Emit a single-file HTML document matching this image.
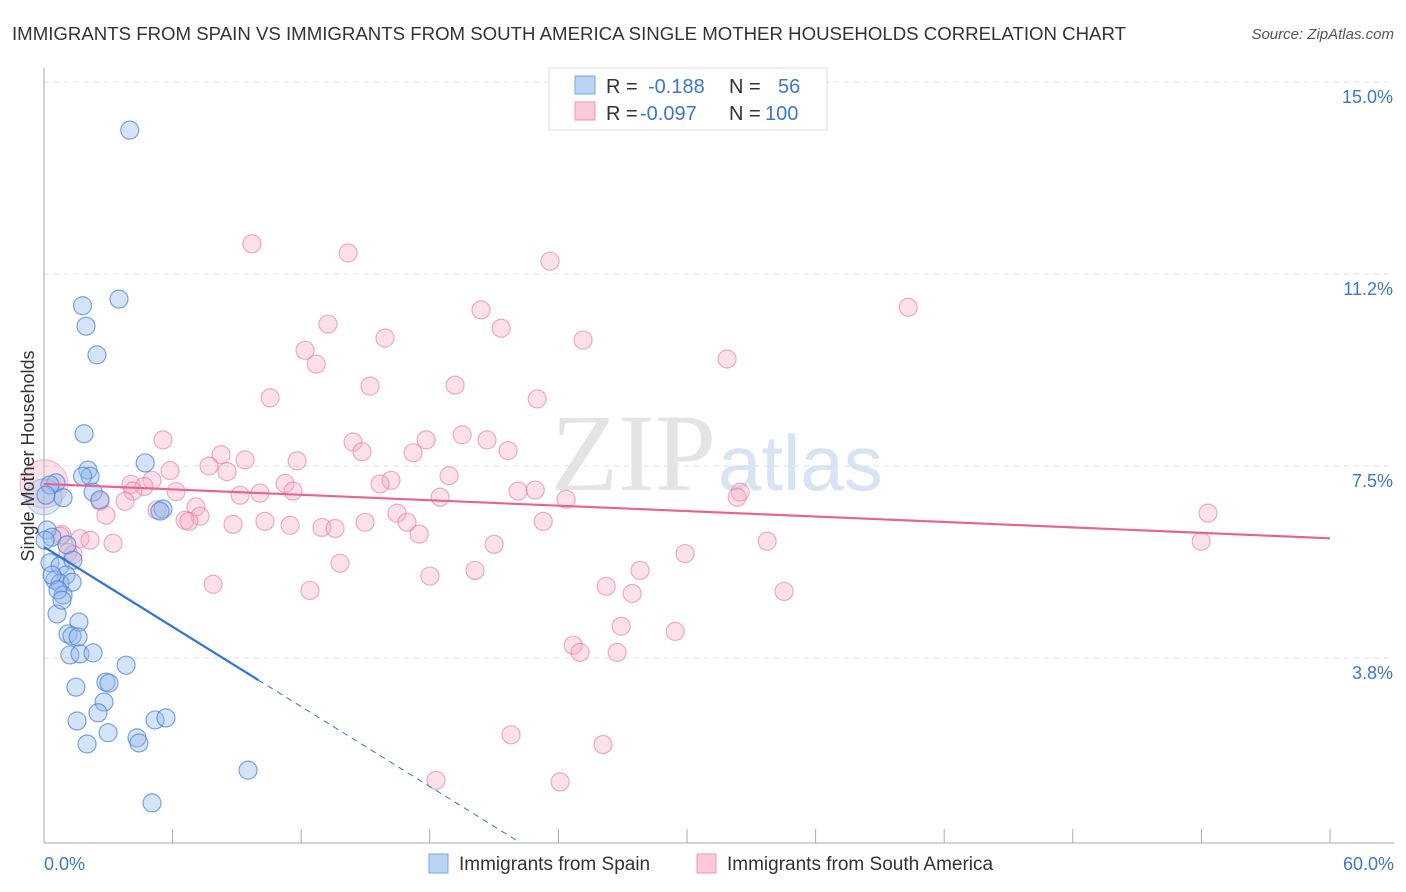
<!DOCTYPE html>
<html><head><meta charset="utf-8"><style>
body{margin:0;background:#fff;font-family:"Liberation Sans",sans-serif;overflow:hidden}
</style></head><body>
<svg width="1406" height="892" xmlns="http://www.w3.org/2000/svg" font-family="Liberation Sans, sans-serif" style="display:block">
<text x="12" y="40" font-size="18" fill="#333" textLength="1114" lengthAdjust="spacingAndGlyphs">IMMIGRANTS FROM SPAIN VS IMMIGRANTS FROM SOUTH AMERICA SINGLE MOTHER HOUSEHOLDS CORRELATION CHART</text>
<text x="1394" y="39" font-size="15" fill="#555" font-style="italic" text-anchor="end">Source: ZipAtlas.com</text>
<g id="grid"></g>
<text x="716" y="490" font-size="110" fill="#e4e4e4" text-anchor="end" font-family="Liberation Serif, serif">ZIP</text>
<text x="718" y="490" font-size="78" fill="#d6e4f3">atlas</text>
<g id="pts"></g>
<g id="lines"></g>
<text x="34" y="456" font-size="18" fill="#333" text-anchor="middle" transform="rotate(-90 34 456)">Single Mother Households</text>
<text x="44" y="870" font-size="18" fill="#3b78c8">0.0%</text>
<text x="1394" y="870" font-size="18" fill="#3b78c8" text-anchor="end">60.0%</text>
<g>
<rect x="549" y="68" width="278" height="62" fill="#fff" stroke="#ddd"/>
<rect x="575" y="76" width="20" height="18" fill="#b9d3f3" stroke="#7aa8e2"/>
<rect x="575" y="102" width="20" height="18" fill="#fbc9d7" stroke="#ef99b2"/>
<text x="606" y="93" font-size="20" fill="#333">R = <tspan fill="#3b78c8" x="648">-0.188</tspan><tspan fill="#333" x="729">N = </tspan><tspan fill="#3b78c8" x="778">56</tspan></text>
<text x="606" y="120" font-size="20" fill="#333">R = <tspan fill="#3b78c8" x="640">-0.097</tspan><tspan fill="#333" x="729">N = </tspan><tspan fill="#3b78c8" x="765">100</tspan></text>
</g>
<g>
<rect x="429" y="854" width="19" height="19" fill="#b9d3f3" stroke="#7aa8e2"/>
<text x="459" y="870" font-size="19" fill="#333">Immigrants from Spain</text>
<rect x="697" y="854" width="19" height="19" fill="#fbc9d7" stroke="#ef99b2"/>
<text x="727" y="870" font-size="19" fill="#333">Immigrants from South America</text>
</g>
</svg>
<script>
const yTicks=[15.0,11.25,7.5,3.75];
const yTickLabels=["15.0%","11.2%","7.5%","3.8%"];
const xTicks=[0,6,12,18,24,30,36,42,48,54,60];
const spainX=[4.0,3.5,1.8,1.96,2.47,1.87,4.72,2.05,2.15,0.56,0.89,2.29,5.55,5.41,0.14,0.37,1.07,0.28,0.75,1.35,1.03,0.51,0.75,1.31,0.89,0.61,1.63,1.12,1.31,1.59,1.21,1.68,2.29,3.83,2.89,3.03,1.49,2.8,2.52,1.54,5.18,5.69,2.99,4.34,4.43,2.01,9.52,5.04,0.28,0.09,0.37,0.65,0.05,0.84,1.8,2.61];
const spainY=[14.06,10.76,10.63,10.23,9.67,8.13,7.56,7.42,7.30,7.17,6.88,6.99,6.66,6.62,6.25,6.11,5.96,5.61,5.55,5.66,5.37,5.27,5.21,5.23,4.98,4.61,4.45,4.22,4.18,4.16,3.81,3.83,3.85,3.61,3.28,3.26,3.18,2.89,2.68,2.52,2.54,2.58,2.29,2.19,2.09,2.07,1.56,0.92,7.13,6.93,5.37,5.08,6.05,4.88,7.30,6.84];
const saX=[9.7,14.19,23.61,40.32,20.39,13.25,21.33,15.91,25.15,12.18,12.7,31.87,10.55,15.21,19.18,23.01,5.55,14.42,17.83,19.51,20.67,17.22,21.65,8.26,9.38,14.84,7.7,11.81,5.88,8.54,16.19,18.9,15.68,11.25,5.04,4.06,4.67,4.15,6.16,9.15,10.08,11.62,22.12,22.92,18.48,24.36,32.48,32.34,2.61,3.78,5.27,7.09,2.89,7.28,6.58,6.76,8.82,10.31,11.48,12.97,13.58,14.98,16.47,16.94,17.5,23.29,0.84,1.68,2.15,3.22,1.12,1.35,54.31,53.99,33.74,21.0,29.91,13.81,20.11,18.01,7.89,12.41,26.23,27.81,27.44,34.53,26.93,29.45,24.69,25.01,26.74,21.79,26.08,18.29,24.08,0.75];
const saY=[11.84,11.66,11.5,10.6,10.55,10.27,10.19,10.0,9.96,9.76,9.49,9.59,8.83,9.06,9.08,8.81,8.01,7.97,8.01,8.11,8.01,7.76,7.80,7.72,7.62,7.78,7.50,7.60,7.41,7.39,7.22,7.31,7.15,7.16,7.22,7.14,7.10,7.01,7.00,6.93,6.97,7.01,7.01,7.03,6.89,6.85,6.99,6.89,6.81,6.81,6.64,6.70,6.54,6.52,6.44,6.42,6.36,6.42,6.34,6.30,6.28,6.40,6.58,6.40,6.17,6.42,6.16,6.08,6.05,5.99,5.81,5.77,6.58,6.03,6.03,5.97,5.79,5.60,5.46,5.35,5.19,5.07,5.15,5.46,5.01,5.05,4.37,4.27,4.00,3.86,3.86,2.25,2.06,1.36,1.33,6.13];
const x0=44,x1=1330,yTop=82,pxPer=51.2;
const X=v=>x0+v/60*(x1-x0);
const Y=v=>yTop+(15-v)*pxPer;
const NS="http://www.w3.org/2000/svg";
const grid=document.getElementById('grid');
function mk(tag,attrs,parent){const e=document.createElementNS(NS,tag);for(const k in attrs)e.setAttribute(k,attrs[k]);parent.appendChild(e);return e;}
yTicks.forEach((t,i)=>{
 const l=mk('line',{x1:44,x2:1394,y1:Y(t),y2:Y(t),stroke:'#ddd','stroke-dasharray':'5,5'},grid);
 
 
 const tx=mk('text',{x:1393,y:Y(t)+21,'font-size':18,fill:'#3b78c8','text-anchor':'end'},grid);
 tx.textContent=yTickLabels[i];
 
 
});
const ax=mk('line',{x1:44,x2:44,y1:68,y2:843,stroke:'#aaa'},grid);


const bx=mk('line',{x1:44,x2:1394,y1:843,y2:843,stroke:'#aaa'},grid);


xTicks.forEach(t=>{
 const l=mk('line',{x1:X(t),x2:X(t),y1:829,y2:843,stroke:'#aaa'},grid);
 
 
});
const pts=document.getElementById('pts');
const big1=mk('circle',{cx:X(0),cy:Y(7.15),r:24,fill:'rgba(247,170,195,0.35)',stroke:'rgba(230,120,155,0.5)'},pts);


const big2=mk('circle',{cx:X(0),cy:Y(6.9),r:18,fill:'rgba(150,185,235,0.3)',stroke:'rgba(90,140,220,0.5)'},pts);


saX.forEach((v,i)=>{
 const c=mk('circle',{cx:X(v),cy:Y(saY[i]),r:9,fill:'rgba(247,170,195,0.35)',stroke:'rgba(230,120,155,0.6)','stroke-width':1.2},pts);
 
 
});
spainX.forEach((v,i)=>{
 const c=mk('circle',{cx:X(v),cy:Y(spainY[i]),r:9,fill:'rgba(150,185,235,0.4)',stroke:'rgba(70,130,215,0.7)','stroke-width':1.2},pts);
 
 
});
const lines=document.getElementById('lines');
const spainA=5.92,spainB=-0.26,saA=7.15,saB=-0.0177;
let l1=mk('line',{x1:X(0),y1:Y(spainA),x2:X(10),y2:Y(spainA+spainB*10),stroke:'#2f74d6','stroke-width':2.2},lines);


let l2=mk('line',{x1:X(10),y1:Y(spainA+spainB*10),x2:X(22.2),y2:Y(spainA+spainB*22.2),stroke:'#2f74d6','stroke-width':1,'stroke-dasharray':'6,5'},lines);


let l3=mk('line',{x1:X(0),y1:Y(saA),x2:X(60),y2:Y(saA+saB*60),stroke:'#e8648f','stroke-width':2.2},lines);


</script>
</body></html>
